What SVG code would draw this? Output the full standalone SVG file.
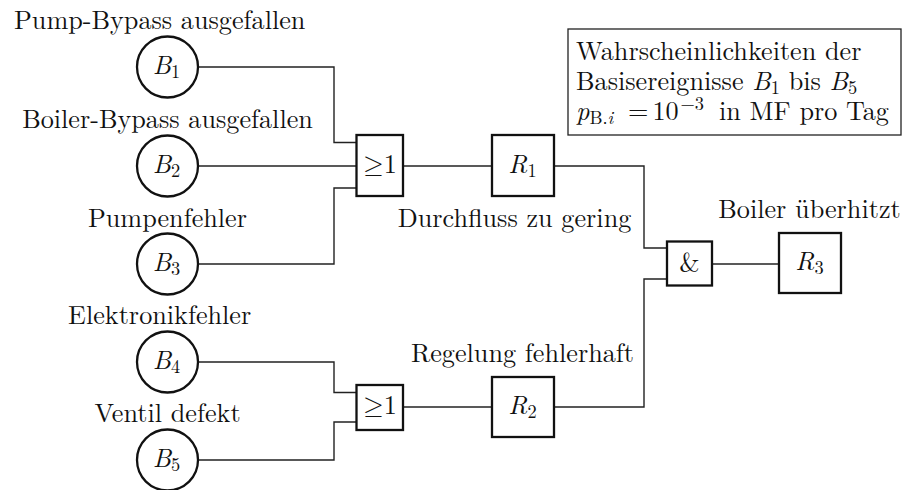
<svg xmlns="http://www.w3.org/2000/svg" width="904" height="490" viewBox="0 0 904 490" font-family="Latin Modern Roman, Liberation Serif, serif">
  <style>
    text { font-size: 26.2px; fill: #111; }
    .c { text-anchor: middle; }
    .mi { font-style: italic; }
    .sub { font-size: 18.4px; font-style: normal; }
    .subi { font-size: 18.4px; font-style: italic; }
    .node { fill: #fff; stroke: #111; stroke-width: 2.3; }
    .gate { fill: #fff; stroke: #111; stroke-width: 2.3; }
    .wire { fill: none; stroke: #222; stroke-width: 1.4; }
    .note { fill: #fff; stroke: #222; stroke-width: 1.3; }
  </style>

  <!-- wiring between events, gates and results -->
  <g id="connectors">
    <polyline class="wire" points="198,67 334,67 334,142.5 356.5,142.5"/>
    <polyline class="wire" points="198,166 356.5,166"/>
    <polyline class="wire" points="198,264 334,264 334,188 356.5,188"/>
    <polyline class="wire" points="403,166 492,166"/>
    <polyline class="wire" points="554,166 644,166 644,248 667,248"/>
    <polyline class="wire" points="198,362 334,362 334,392.5 356.5,392.5"/>
    <polyline class="wire" points="198,460 334,460 334,422 356.5,422"/>
    <polyline class="wire" points="403,407 492,407"/>
    <polyline class="wire" points="554,407 644,407 644,279 667,279"/>
    <polyline class="wire" points="712,264 779,264"/>
  </g>

  <!-- basic events -->
  <g id="B1">
    <circle class="node" cx="167.5" cy="67" r="30.5"/>
    <text x="166.5" y="74" class="c"><tspan class="mi">B</tspan><tspan class="sub" dy="4">1</tspan></text>
    <text x="159.7" y="28.5" class="c">Pump-Bypass ausgefallen</text>
  </g>
  <g id="B2">
    <circle class="node" cx="167.5" cy="166" r="30.5"/>
    <text x="166.5" y="173" class="c"><tspan class="mi">B</tspan><tspan class="sub" dy="4">2</tspan></text>
    <text x="167.5" y="128" class="c">Boiler-Bypass ausgefallen</text>
  </g>
  <g id="B3">
    <circle class="node" cx="167.5" cy="264" r="30.5"/>
    <text x="166.5" y="271" class="c"><tspan class="mi">B</tspan><tspan class="sub" dy="4">3</tspan></text>
    <text x="167.5" y="226.5" class="c">Pumpenfehler</text>
  </g>
  <g id="B4">
    <circle class="node" cx="167.5" cy="362" r="30.5"/>
    <text x="166.5" y="369" class="c"><tspan class="mi">B</tspan><tspan class="sub" dy="4">4</tspan></text>
    <text x="159.7" y="324" class="c">Elektronikfehler</text>
  </g>
  <g id="B5">
    <circle class="node" cx="167.5" cy="460" r="30.5"/>
    <text x="166.5" y="467" class="c"><tspan class="mi">B</tspan><tspan class="sub" dy="4">5</tspan></text>
    <text x="167.5" y="422" class="c">Ventil defekt</text>
  </g>

  <!-- gates -->
  <g id="OR1">
    <rect class="gate" x="356.5" y="135" width="46.5" height="61"/>
    <text x="380" y="172.5" class="c"><tspan font-family="Latin Modern Math, Latin Modern Roman, serif">≥</tspan>1</text>
  </g>
  <g id="OR2">
    <rect class="gate" x="356.5" y="385" width="46.5" height="45"/>
    <text x="380" y="414" class="c"><tspan font-family="Latin Modern Math, Latin Modern Roman, serif">≥</tspan>1</text>
  </g>
  <g id="AND">
    <rect class="gate" x="667" y="241.5" width="45" height="44"/>
    <text x="689.5" y="272" class="c">&amp;</text>
  </g>

  <!-- intermediate and top results -->
  <g id="R1">
    <rect class="gate" x="492" y="135" width="62" height="61"/>
    <text x="522.5" y="172.5" class="c"><tspan class="mi">R</tspan><tspan class="sub" dy="4">1</tspan></text>
    <text x="514.5" y="226.5" class="c">Durchfluss zu gering</text>
  </g>
  <g id="R2">
    <rect class="gate" x="492" y="377" width="62" height="60"/>
    <text x="522.5" y="414" class="c"><tspan class="mi">R</tspan><tspan class="sub" dy="4">2</tspan></text>
    <text x="522.5" y="362" class="c">Regelung fehlerhaft</text>
  </g>
  <g id="R3">
    <rect class="gate" x="779" y="233" width="62" height="60"/>
    <text x="809.5" y="270" class="c"><tspan class="mi">R</tspan><tspan class="sub" dy="4">3</tspan></text>
    <text x="809.5" y="218" class="c">Boiler überhitzt</text>
  </g>

  <!-- probability note -->
  <g id="note">
    <rect class="note" x="568" y="29" width="333" height="106"/>
    <text x="576" y="60">Wahrscheinlichkeiten der</text>
    <text x="576" y="90">Basisereignisse <tspan class="mi">B</tspan><tspan class="sub" dy="4">1</tspan><tspan dy="-4"> bis </tspan><tspan class="mi">B</tspan><tspan class="sub" dy="4">5</tspan></text>
    <text x="576" y="120"><tspan class="mi">p</tspan><tspan class="sub" dy="4">B.</tspan><tspan class="subi">i</tspan></text>
    <text x="628" y="120">=</text>
    <text x="652.5" y="120">10</text>
    <text x="680.5" y="110" class="sub">−3</text>
    <text x="719" y="120">in MF pro Tag</text>
  </g>
</svg>
